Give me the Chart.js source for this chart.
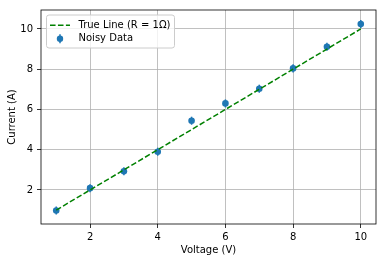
<!DOCTYPE html>
<html><head><meta charset="utf-8">
<script src="https://cdn.jsdelivr.net/npm/chart.js@4"></script>
<style>html,body{margin:0;padding:0;background:#fff}</style>
</head><body>
<canvas id="c" width="382" height="262" style="width:382px;height:262px;display:block"></canvas>
<script>
const voltage = [1, 2, 3, 4, 5, 6, 7, 8, 9, 10];
const noisyCurrent = [0.98, 2.09, 2.93, 3.90, 5.44, 6.30, 7.03, 8.04, 9.11, 10.24];
const currentError = [0.2, 0.2, 0.2, 0.2, 0.2, 0.2, 0.2, 0.2, 0.2, 0.2];
const trueCurrent = [1, 2, 3, 4, 5, 6, 7, 8, 9, 10];
const xTicks = [2, 4, 6, 8, 10];
const yTicks = [2, 4, 6, 8, 10];
const lineLabel = 'True Line (R = 1Ω)';
const dataLabel = 'Noisy Data';
const xTitle = 'Voltage (V)';
const yTitle = 'Current (A)';

const FONT = 'DejaVu Sans';
const BLUE = '#1f77b4';
const GREEN = '#008000';

const errorBars = {
  id: 'errorBars',
  beforeDatasetsDraw(chart) {
    const meta = chart.getDatasetMeta(1);
    const ys = chart.scales.y;
    const ctx = chart.ctx;
    ctx.save();
    ctx.strokeStyle = BLUE;
    ctx.lineWidth = 1.5;
    meta.data.forEach((pt, i) => {
      const v = noisyCurrent[i], e = currentError[i];
      ctx.beginPath();
      ctx.moveTo(pt.x, ys.getPixelForValue(v - e));
      ctx.lineTo(pt.x, ys.getPixelForValue(v + e));
      ctx.stroke();
    });
    ctx.restore();
  }
};

const frameAndLegend = {
  id: 'frameAndLegend',
  afterDraw(chart) {
    const ctx = chart.ctx;
    const a = chart.chartArea;
    ctx.save();
    ctx.strokeStyle = '#000';
    ctx.lineWidth = 0.8;
    ctx.strokeRect(a.left, a.top, a.right - a.left, a.bottom - a.top);

    // legend
    const bx = a.left + 5.5, by = a.top + 5, bw = 128, bh = 33, r = 2.5;
    ctx.beginPath();
    ctx.moveTo(bx + r, by);
    ctx.lineTo(bx + bw - r, by);
    ctx.arcTo(bx + bw, by, bx + bw, by + r, r);
    ctx.lineTo(bx + bw, by + bh - r);
    ctx.arcTo(bx + bw, by + bh, bx + bw - r, by + bh, r);
    ctx.lineTo(bx + r, by + bh);
    ctx.arcTo(bx, by + bh, bx, by + bh - r, r);
    ctx.lineTo(bx, by + r);
    ctx.arcTo(bx, by, bx + r, by, r);
    ctx.closePath();
    ctx.fillStyle = 'rgba(255,255,255,0.8)';
    ctx.fill();
    ctx.strokeStyle = '#cccccc';
    ctx.lineWidth = 1;
    ctx.stroke();

    const row1 = by + 10.3, row2 = by + 23.7;
    const hx0 = bx + 3.5, hx1 = bx + 23.5, tx = bx + 32;
    ctx.strokeStyle = GREEN;
    ctx.lineWidth = 1.5;
    ctx.setLineDash([5.55, 2.4]);
    ctx.beginPath();
    ctx.moveTo(hx0, row1);
    ctx.lineTo(hx1, row1);
    ctx.stroke();
    ctx.setLineDash([]);

    const mx = (hx0 + hx1) / 2;
    ctx.strokeStyle = BLUE;
    ctx.beginPath();
    ctx.moveTo(mx, row2 - 4.5);
    ctx.lineTo(mx, row2 + 4.5);
    ctx.stroke();
    ctx.fillStyle = BLUE;
    ctx.beginPath();
    ctx.arc(mx, row2, 3.2, 0, Math.PI * 2);
    ctx.fill();

    ctx.fillStyle = '#000';
    ctx.font = '10px "' + FONT + '"';
    ctx.textBaseline = 'middle';
    ctx.textAlign = 'left';
    ctx.fillText(chart.data.datasets[0].label, tx, row1);
    ctx.fillText(chart.data.datasets[1].label, tx, row2);
    ctx.restore();
  }
};

new Chart(document.getElementById('c'), {
  type: 'scatter',
  data: {
    datasets: [
      {
        label: lineLabel,
        data: voltage.map((v, i) => ({ x: v, y: trueCurrent[i] })),
        showLine: true,
        borderColor: GREEN,
        borderWidth: 1.5,
        borderDash: [5.55, 2.4],
        pointRadius: 0,
        fill: false
      },
      {
        label: dataLabel,
        data: voltage.map((v, i) => ({ x: v, y: noisyCurrent[i] })),
        showLine: false,
        backgroundColor: BLUE,
        borderWidth: 0,
        pointRadius: 3.3,
        pointHoverRadius: 3.3
      }
    ]
  },
  options: {
    responsive: false,
    animation: false,
    devicePixelRatio: 1,
    events: [],
    layout: { padding: { left: 0, right: 6, top: 6, bottom: 0 } },
    plugins: { legend: { display: false }, tooltip: { enabled: false } },
    scales: {
      x: {
        type: 'linear',
        min: 0.55, max: 10.45,
        afterBuildTicks: s => { s.ticks = xTicks.map(v => ({ value: v })); },
        afterFit: s => { s.height = 38; },
        grid: { color: '#b0b0b0', lineWidth: 0.8, tickColor: '#000', tickLength: 4, drawOnChartArea: true },
        border: { display: false },
        ticks: { color: '#000', padding: 3, maxRotation: 0, autoSkip: false, font: { family: FONT, size: 10 } },
        title: { display: true, text: xTitle, color: '#000', font: { family: FONT, size: 10 }, padding: { top: 0, bottom: 6 } }
      },
      y: {
        type: 'linear',
        min: 0.31, max: 10.94,
        afterBuildTicks: s => { s.ticks = yTicks.map(v => ({ value: v })); },
        afterFit: s => { s.width = 41; },
        grid: { color: '#b0b0b0', lineWidth: 0.8, tickColor: '#000', tickLength: 4 },
        border: { display: false },
        ticks: { color: '#000', padding: 4, autoSkip: false, font: { family: FONT, size: 10 } },
        title: { display: true, text: yTitle, color: '#000', font: { family: FONT, size: 10 }, padding: { top: 6, bottom: 0 } }
      }
    }
  },
  plugins: [errorBars, frameAndLegend]
});
</script>
</body></html>
